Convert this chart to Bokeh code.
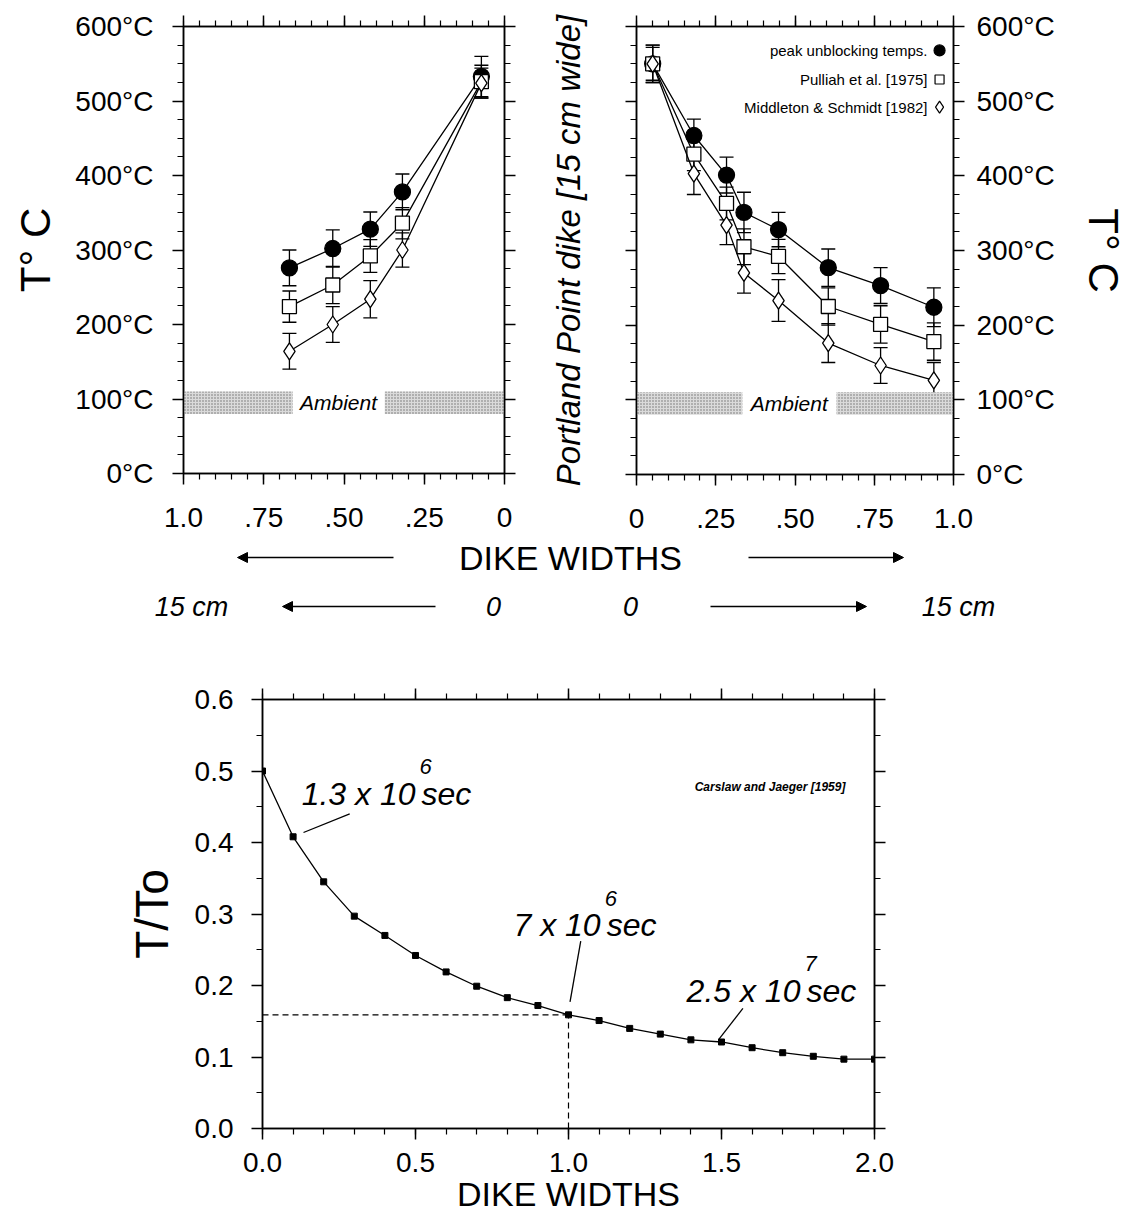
import math
from bokeh.plotting import figure
from bokeh.models import (Range1d, LinearAxis, FixedTicker, Whisker, TeeHead,
                          ColumnDataSource, Arrow, NormalHead)
from bokeh.layouts import column, row
from bokeh.embed import file_html
from bokeh.resources import INLINE
from bokeh.core.properties import value

FONT = "Liberation Sans"

# ---------------- data: top-left panel (dike widths, reversed) ----------------
left_x = [0.670, 0.535, 0.418, 0.318, 0.072]
left_peak = [276, 302, 328, 378, 533]
left_peak_err = [24, 25, 23, 24, 27]
left_pulliah = [224, 253, 292, 336, 526]
left_pulliah_err = [21, 25, 22, 21, 22]
left_middleton = [164, 200, 234, 300, 524]
left_middleton_err = [24, 24, 25, 23, 20]

# ---------------- data: top-right panel ----------------
right_x = [0.051, 0.181, 0.284, 0.339, 0.448, 0.605, 0.770, 0.938]
right_peak = [550, 454, 401, 351, 328, 277, 253, 224]
right_peak_err = [25, 22, 24, 27, 23, 25, 24, 26]
right_pulliah = [550, 429, 363, 305, 292, 225, 201, 178]
right_pulliah_err = [25, 22, 22, 24, 23, 25, 25, 25]
right_middleton = [550, 403, 334, 270, 233, 176, 146, 126]
right_middleton_err = [22, 28, 26, 27, 28, 26, 24, 24]

ambient_low, ambient_high = 80, 110
left_band_start = [1.0, 0.373]
left_band_end = [0.66, 0.0]
right_band_start = [0.0, 0.631]
right_band_end = [0.334, 1.0]
left_ambient_x, right_ambient_x, ambient_y = 0.517, 0.482, 95

top_xticks = [0.0, 0.25, 0.5, 0.75, 1.0]
top_xtick_labels = ["0", ".25", ".50", ".75", "1.0"]
top_xminor = [i / 20 for i in range(21)]
top_yticks = [0, 100, 200, 300, 400, 500, 600]
top_ytick_labels = ["0°C", "100°C", "200°C", "300°C", "400°C", "500°C", "600°C"]
top_yminor = [i * 25 for i in range(25)]

legend_labels = ["peak unblocking temps.", "Pulliah et al. [1975]", "Middleton & Schmidt [1982]"]
legend_y = [568, 529, 492]
legend_text_x, legend_marker_x = 0.918, 0.956

# ---------------- data: bottom panel ----------------
dike_widths = [0.0, 0.1, 0.2, 0.3, 0.4, 0.5, 0.6, 0.7, 0.8, 0.9, 1.0,
               1.1, 1.2, 1.3, 1.4, 1.5, 1.6, 1.7, 1.8, 1.9, 2.0]
t_ratio = [0.500, 0.408, 0.345, 0.297, 0.270, 0.242, 0.219, 0.199, 0.183, 0.172, 0.159,
           0.151, 0.140, 0.132, 0.124, 0.121, 0.113, 0.106, 0.101, 0.097, 0.097]
ref_index = 10  # the 1.0 dike width point, marked with dashed lines

bot_xticks = [0.0, 0.5, 1.0, 1.5, 2.0]
bot_xtick_labels = ["0.0", "0.5", "1.0", "1.5", "2.0"]
bot_xminor = [i / 10 for i in range(21)]
bot_yticks = [0.0, 0.1, 0.2, 0.3, 0.4, 0.5, 0.6]
bot_ytick_labels = ["0.0", "0.1", "0.2", "0.3", "0.4", "0.5", "0.6"]
bot_yminor = [i / 20 for i in range(13)]

ann_text = ["1.3 x 10", "7 x 10", "2.5 x 10"]
ann_exp = ["6", "6", "7"]
ann_x = [0.500, 1.105, 1.758]
ann_y = [0.4685, 0.284, 0.193]
lead_x0 = [0.285, 1.040, 1.570]
lead_y0 = [0.440, 0.262, 0.168]
lead_x1 = [0.134, 1.005, 1.490]
lead_y1 = [0.414, 0.177, 0.124]
cite_x, cite_y = 1.905, 0.477


def base_fig(xr, yr, fw, fh, bl, br, bt, bb):
    p = figure(x_range=xr, y_range=yr, frame_width=fw, frame_height=fh,
               min_border_left=bl, min_border_right=br, min_border_top=bt,
               min_border_bottom=bb, output_backend="svg", toolbar_location=None,
               x_axis_location=None, y_axis_location=None)
    p.grid.visible = False
    p.outline_line_color = "black"
    p.outline_line_width = 1.5
    p.background_fill_color = "white"
    p.border_fill_color = "white"
    return p


def add_axis(p, side, major, minor, labels=None, size="28px", standoff=14,
             title=None, title_size="40px", title_style="normal", title_standoff=10):
    ax = LinearAxis(ticker=FixedTicker(ticks=major, minor_ticks=minor))
    ax.axis_line_color = "black"
    ax.axis_line_width = 1.5
    ax.major_tick_line_width = 1.5
    ax.minor_tick_line_width = 1.2
    ax.major_tick_out = 11
    ax.major_tick_in = 0
    ax.minor_tick_out = 6
    ax.minor_tick_in = 0
    ax.major_label_text_font = FONT
    if labels is None:
        ax.major_label_overrides = {t: "" for t in major}
        ax.major_label_text_font_size = "1px"
        ax.major_label_standoff = 0
    else:
        ax.major_label_overrides = dict(zip(major, labels))
        ax.major_label_text_font_size = size
        ax.major_label_standoff = standoff
        ax.major_label_text_color = "black"
    if title is not None:
        ax.axis_label = title
        ax.axis_label_text_font = FONT
        ax.axis_label_text_font_size = title_size
        ax.axis_label_text_font_style = title_style
        ax.axis_label_standoff = title_standoff
        ax.axis_label_text_color = "black"
    p.add_layout(ax, side)
    return ax


def draw_series(p, xs, ys, errs, marker, fill, size):
    src = ColumnDataSource(dict(x=xs, y=ys,
                                lo=[a - b for a, b in zip(ys, errs)],
                                hi=[a + b for a, b in zip(ys, errs)]))
    p.line("x", "y", source=src, line_color="black", line_width=1.3)
    w = Whisker(source=src, base="x", lower="lo", upper="hi", dimension="height",
                line_color="black", line_width=1.3,
                lower_head=TeeHead(size=14, line_color="black", line_width=1.3),
                upper_head=TeeHead(size=14, line_color="black", line_width=1.3))
    p.add_layout(w)
    p.scatter("x", "y", source=src, marker=marker, size=size, fill_color=fill,
              line_color="black", line_width=1.3)


def draw_ambient(p, starts, ends, tx):
    p.quad(left=starts, right=ends, bottom=ambient_low, top=ambient_high,
           fill_color="#dadada", line_color=None, hatch_pattern="dot",
           hatch_color="#6e6e6e", hatch_scale=3, hatch_weight=1)
    p.text(x=[tx], y=[ambient_y], text=["Ambient"], text_font=value(FONT),
           text_font_style="italic", text_font_size="21px", text_align="center",
           text_baseline="middle", text_color="black")


# ---------------- top-left ----------------
pL = base_fig(Range1d(1.0, 0.0), Range1d(0, 600), 321, 447, 183, 36, 26, 67)
add_axis(pL, "below", top_xticks, top_xminor, top_xtick_labels, "28px", 23)
add_axis(pL, "above", top_xticks, top_xminor)
add_axis(pL, "left", top_yticks, top_yminor, top_ytick_labels, "28px", 19,
         title="T° C", title_size="42px", title_standoff=13)
add_axis(pL, "right", top_yticks, top_yminor)
draw_ambient(pL, left_band_start, left_band_end, left_ambient_x)
draw_series(pL, left_x, left_peak, left_peak_err, "circle", "black", 16)
draw_series(pL, left_x, left_pulliah, left_pulliah_err, "square", "white", 14)
draw_series(pL, left_x, left_middleton, left_middleton_err, "diamond", "white", 17)

# ---------------- top-right ----------------
pR = base_fig(Range1d(0.0, 1.0), Range1d(0, 600), 317, 448, 96, 160, 25, 67)
add_axis(pR, "below", top_xticks, top_xminor, top_xtick_labels, "28px", 23)
add_axis(pR, "above", top_xticks, top_xminor)
add_axis(pR, "left", top_yticks, top_yminor, None,
         title="Portland Point dike [15 cm wide]", title_size="33px",
         title_style="italic", title_standoff=39)
add_axis(pR, "right", top_yticks, top_yminor, top_ytick_labels, "28px", 12,
         title="T° C", title_size="42px", title_standoff=22)
draw_ambient(pR, right_band_start, right_band_end, right_ambient_x)
draw_series(pR, right_x, right_peak, right_peak_err, "circle", "black", 16)
draw_series(pR, right_x, right_pulliah, right_pulliah_err, "square", "white", 14)
draw_series(pR, right_x, right_middleton, right_middleton_err, "diamond", "white", 17)
# legend (label left of marker)
pR.text(x=[legend_text_x] * 3, y=legend_y, text=legend_labels, text_font=value(FONT),
        text_font_size="15px", text_align="right", text_baseline="middle",
        text_color="black")
for yy, mk, fc, sz in zip(legend_y, ["circle", "square", "diamond"],
                          ["black", "white", "white"], [11, 9, 12]):
    pR.scatter([legend_marker_x], [yy], marker=mk, size=sz, fill_color=fc,
               line_color="black", line_width=1.2)

# ---------------- middle annotation strip (page coordinates) ----------------
pA = figure(x_range=Range1d(0, 1120), y_range=Range1d(650, 540), frame_width=1120,
            frame_height=110, min_border=0, output_backend="svg",
            toolbar_location=None, x_axis_location=None, y_axis_location=None)
pA.grid.visible = False
pA.outline_line_color = None
pA.text(x=[570], y=[557], text=["DIKE WIDTHS"], text_font=value(FONT),
        text_font_size="34px", text_align="center", text_baseline="middle",
        text_color="black")
pA.text(x=[191, 493, 630, 958], y=[606] * 4, text=["15 cm", "0", "0", "15 cm"],
        text_font=value(FONT), text_font_style="italic", text_font_size="27px",
        text_align="center", text_baseline="middle", text_color="black")
for xs, xe, yy in [(393, 237, 557), (748, 903, 557), (435, 282, 606), (710, 866, 606)]:
    pA.add_layout(Arrow(x_start=xs, y_start=yy, x_end=xe, y_end=yy, line_width=1.3,
                        line_color="black",
                        end=NormalHead(size=10, fill_color="black", line_color="black")))

# ---------------- bottom panel ----------------
pB = base_fig(Range1d(0.0, 2.0), Range1d(0.0, 0.6), 612, 429, 262, 246, 49, 82)
add_axis(pB, "below", bot_xticks, bot_xminor, bot_xtick_labels, "28px", 13,
         title="DIKE WIDTHS", title_size="34px", title_standoff=0)
add_axis(pB, "above", bot_xticks, bot_xminor)
add_axis(pB, "left", bot_yticks, bot_yminor, bot_ytick_labels, "28px", 18,
         title="T/To", title_size="46px", title_standoff=14)
add_axis(pB, "right", bot_yticks, bot_yminor)

xr, yr = dike_widths[ref_index], t_ratio[ref_index]
pB.line([0.0, xr], [yr, yr], line_color="black", line_width=1.2, line_dash="6 4")
pB.line([xr, xr], [0.0, yr], line_color="black", line_width=1.2, line_dash="6 4")
pB.line(dike_widths, t_ratio, line_color="black", line_width=1.3)
pB.scatter(dike_widths, t_ratio, marker="square", size=6, fill_color="black",
           line_color="black")
pB.segment(x0=lead_x0, y0=lead_y0, x1=lead_x1, y1=lead_y1, line_color="black",
           line_width=1.3)
pB.text(x=ann_x, y=ann_y, text=ann_text, text_font=value(FONT), text_font_style="italic",
        text_font_size="32px", text_align="right", text_baseline="middle",
        text_color="black")
pB.text(x=ann_x, y=ann_y, text=ann_exp, text_font=value(FONT), text_font_style="italic",
        text_font_size="22px", text_align="left", text_baseline="middle",
        x_offset=4, y_offset=-27, text_color="black")
pB.text(x=ann_x, y=ann_y, text=["sec"] * 3, text_font=value(FONT),
        text_font_style="italic", text_font_size="32px", text_align="left",
        text_baseline="middle", x_offset=6, text_color="black")
pB.text(x=[cite_x], y=[cite_y], text=["Carslaw and Jaeger [1959]"], text_font=value(FONT),
        text_font_style="bold italic", text_font_size="12px", text_align="right",
        text_baseline="middle", text_color="black")

layout = column(row(pL, pR, spacing=0), row(pA), row(pB), spacing=0)
open("out.html", "w").write(file_html(layout, INLINE))
